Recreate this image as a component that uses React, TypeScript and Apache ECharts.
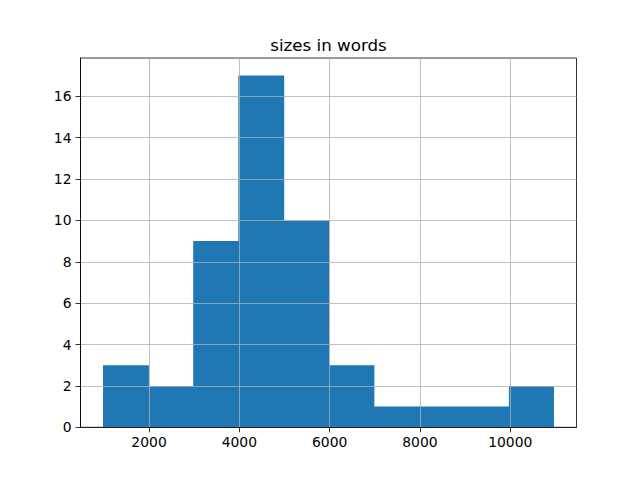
import React, { useEffect, useRef } from "react";
import * as echarts from "echarts";

const binStart = 981;
const binWidth = 998.7;
const counts = [3, 2, 9, 17, 10, 3, 1, 1, 1, 2];
const xTicks = [2000, 4000, 6000, 8000, 10000];
const yTicks = [0, 2, 4, 6, 8, 10, 12, 14, 16];
const titleText = "sizes in words";

export default function App() {
  const ref = useRef<HTMLDivElement>(null);
  useEffect(() => {
    const chart = echarts.init(ref.current!, null, { renderer: "svg" });
    const data = counts.map((c, i) => [binStart + i * binWidth, binStart + (i + 1) * binWidth, c]);
    const font = "DejaVu Sans";
    chart.setOption({
      animation: false,
      backgroundColor: "#ffffff",
      title: {
        text: titleText,
        left: 323.5,
        textAlign: "center",
        top: 31,
        textStyle: { fontFamily: font, fontSize: 16.7, fontWeight: "normal", color: "#000" },
      },
      grid: {
        left: 80.5,
        right: 63.5,
        top: 58,
        bottom: 52.7,
        show: true,
        borderColor: "#000",
        borderWidth: 0.8,
        backgroundColor: "transparent",
      },
      xAxis: {
        type: "value",
        min: 482,
        max: 11467,
        z: 3,
        axisLine: { show: true, onZero: false, lineStyle: { color: "#000", width: 0.8 } },
        axisTick: { show: true, length: 5, lineStyle: { color: "#000", width: 0.8 }, customValues: xTicks },
        axisLabel: {
          customValues: xTicks,
          margin: 8,
          color: "#000",
          fontFamily: font,
          fontSize: 13.9,
          formatter: (v: number) => String(v),
        },
        splitLine: { show: true, lineStyle: { color: "#b0b0b0", width: 0.8 } },
      },
      yAxis: {
        type: "value",
        min: 0,
        max: 17.85,
        z: 3,
        axisLine: { show: true, lineStyle: { color: "#000", width: 0.8 } },
        axisTick: { show: true, length: 5, lineStyle: { color: "#000", width: 0.8 }, customValues: yTicks },
        axisLabel: {
          customValues: yTicks,
          margin: 9,
          color: "#000",
          fontFamily: font,
          fontSize: 13.9,
          formatter: (v: number) => String(v),
        },
        splitLine: { show: true, lineStyle: { color: "#b0b0b0", width: 0.8 } },
      },
      series: [
        {
          type: "custom",
          z: 2,
          data,
          encode: { x: [0, 1], y: 2 },
          renderItem: (params: any, api: any) => {
            const s = api.coord([api.value(0), api.value(2)]);
            const e = api.coord([api.value(1), 0]);
            const last = params.dataIndex === counts.length - 1;
            return {
              type: "rect",
              shape: { x: s[0], y: s[1], width: e[0] - s[0] + (last ? 0 : 0.8), height: e[1] - s[1] },
              style: { fill: "#1f77b4" },
            };
          },
        },
      ],
    });
    return () => chart.dispose();
  }, []);
  return (
    <div
      ref={ref}
      style={{ position: "fixed", left: 0, top: 0, width: 640, height: 480, background: "#fff" }}
    />
  );
}
